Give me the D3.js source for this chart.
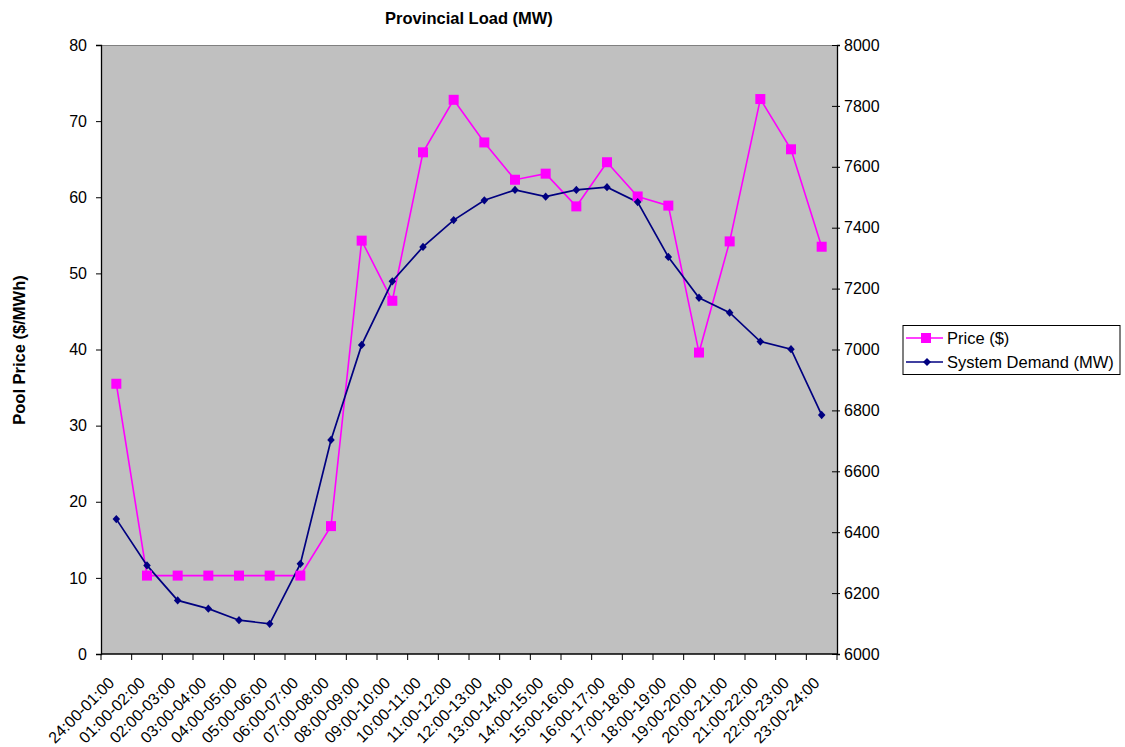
<!DOCTYPE html>
<html><head><meta charset="utf-8">
<script src="https://cdn.jsdelivr.net/npm/d3@7/dist/d3.min.js"></script>
<style>body{margin:0;background:#fff}svg{display:block}text{font-family:Arial,"Liberation Sans",sans-serif}</style>
</head><body><svg id="c" width="1125" height="747"></svg>
<script>
const categories = ["24:00-01:00","01:00-02:00","02:00-03:00","03:00-04:00","04:00-05:00","05:00-06:00","06:00-07:00","07:00-08:00","08:00-09:00","09:00-10:00","10:00-11:00","11:00-12:00","12:00-13:00","13:00-14:00","14:00-15:00","15:00-16:00","16:00-17:00","17:00-18:00","18:00-19:00","19:00-20:00","20:00-21:00","21:00-22:00","22:00-23:00","23:00-24:00"];
const price = [35.5,10.3,10.3,10.3,10.3,10.3,10.3,16.8,54.3,46.4,65.9,72.8,67.2,62.3,63.1,58.8,64.6,60.1,58.9,39.6,54.2,72.9,66.3,53.5];
const demand = [6443,6291,6176,6149,6111,6099,6296,6703,7015,7224,7337,7425,7490,7524,7502,7524,7533,7484,7304,7170,7121,7026,7001,6785];
const leftTicks = [0,10,20,30,40,50,60,70,80];
const rightTicks = [6000,6200,6400,6600,6800,7000,7200,7400,7600,7800,8000];
const seriesNames = ["Price ($)","System Demand (MW)"];

const svg = d3.select("#c");
const L=101, R=837, T=45, B=654;
const FS=16, FT=16.5;
const x = d3.scaleBand().domain(categories).range([L,R]).padding(0);
const yL = d3.scaleLinear().domain([0,80]).range([B,T]);
const yR = d3.scaleLinear().domain([6000,8000]).range([B,T]);

svg.append("rect").attr("x",L).attr("y",T).attr("width",R-L).attr("height",B-T).attr("fill","#c0c0c0");
svg.append("line").attr("x1",L).attr("x2",R).attr("y1",T+0.5).attr("y2",T+0.5).attr("stroke","#808080");

const gl = svg.append("g").attr("transform",`translate(${L},0)`)
  .call(d3.axisLeft(yL).tickValues(leftTicks).tickSize(5).tickPadding(9));
const gr = svg.append("g").attr("transform",`translate(${R},0)`)
  .call(d3.axisRight(yR).tickValues(rightTicks).tickFormat(d3.format("d")).tickSize(3).tickPadding(4));
gr.selectAll(".tick line").attr("x1",-5).attr("x2",3);
const gb = svg.append("g").attr("transform",`translate(0,${B})`)
  .call(d3.axisBottom(x).tickSize(0).tickFormat(""));
const bounds = d3.range(categories.length+1).map(i=>L+i*x.bandwidth());
gb.selectAll(".bt").data(bounds).enter().append("line").attr("class","bt")
  .attr("x1",d=>d).attr("x2",d=>d).attr("y1",0).attr("y2",6).attr("stroke","#000");
[gl,gr,gb].forEach(g=>{g.select(".domain").attr("stroke","#000").attr("stroke-width",1.3);
  g.selectAll(".tick line").attr("stroke","#000");
  g.selectAll("text").attr("font-size",FS).attr("fill","#000").attr("font-family","Arial, 'Liberation Sans', sans-serif");});
gb.select(".domain").attr("d",`M${L},0H${R}`);

svg.append("g").selectAll("text").data(categories).enter().append("text")
  .attr("transform",d=>`translate(${x(d)+x.bandwidth()/2-5},${B+26}) rotate(-45)`)
  .attr("text-anchor","end").attr("dy","0.35em").attr("font-size",FS).text(d=>d);

const pinkC="#ff00ff", navyC="#000080";
const cx = (d,i)=>x(categories[i])+x.bandwidth()/2;
svg.append("path").datum(price).attr("fill","none").attr("stroke",pinkC).attr("stroke-width",1.6)
  .attr("d",d3.line().x(cx).y(d=>yL(d)));
svg.append("path").datum(demand).attr("fill","none").attr("stroke",navyC).attr("stroke-width",1.7)
  .attr("d",d3.line().x(cx).y(d=>yR(d)));
svg.append("g").selectAll("rect").data(price).enter().append("rect")
  .attr("x",(d,i)=>cx(d,i)-5).attr("y",d=>yL(d)-5)
  .attr("width",10).attr("height",10).attr("fill",pinkC);
const diamond = d3.symbol().type(d3.symbolDiamond2).size(40);
svg.append("g").selectAll("path").data(demand).enter().append("path")
  .attr("transform",(d,i)=>`translate(${cx(d,i)},${yR(d)}) scale(0.95,1.05)`)
  .attr("d",diamond).attr("fill",navyC);

svg.append("text").attr("x",469).attr("y",24).attr("text-anchor","middle").attr("font-size",FT).attr("font-weight","bold").text("Provincial Load (MW)");
svg.append("text").attr("transform",`translate(25,350) rotate(-90)`).attr("text-anchor","middle").attr("font-size",FT).attr("font-weight","bold").text("Pool Price ($/MWh)");

const lg = svg.append("g");
lg.append("rect").attr("x",903).attr("y",325.5).attr("width",217).attr("height",49).attr("fill","#fff").attr("stroke","#000");
[[pinkC,"sq"],[navyC,"di"]].forEach((s,i)=>{
  const cy = 338+i*24;
  lg.append("line").attr("x1",906).attr("x2",943).attr("y1",cy).attr("y2",cy).attr("stroke",s[0]).attr("stroke-width",1.6);
  if(s[1]==="sq") lg.append("rect").attr("x",921).attr("y",cy-5).attr("width",10).attr("height",10).attr("fill",s[0]);
  else lg.append("path").attr("transform",`translate(927,${cy})`).attr("d",diamond).attr("fill",s[0]);
  lg.append("text").attr("x",947).attr("y",cy).attr("dy","0.35em").attr("font-size",FT).text(seriesNames[i]);
});
</script></body></html>
